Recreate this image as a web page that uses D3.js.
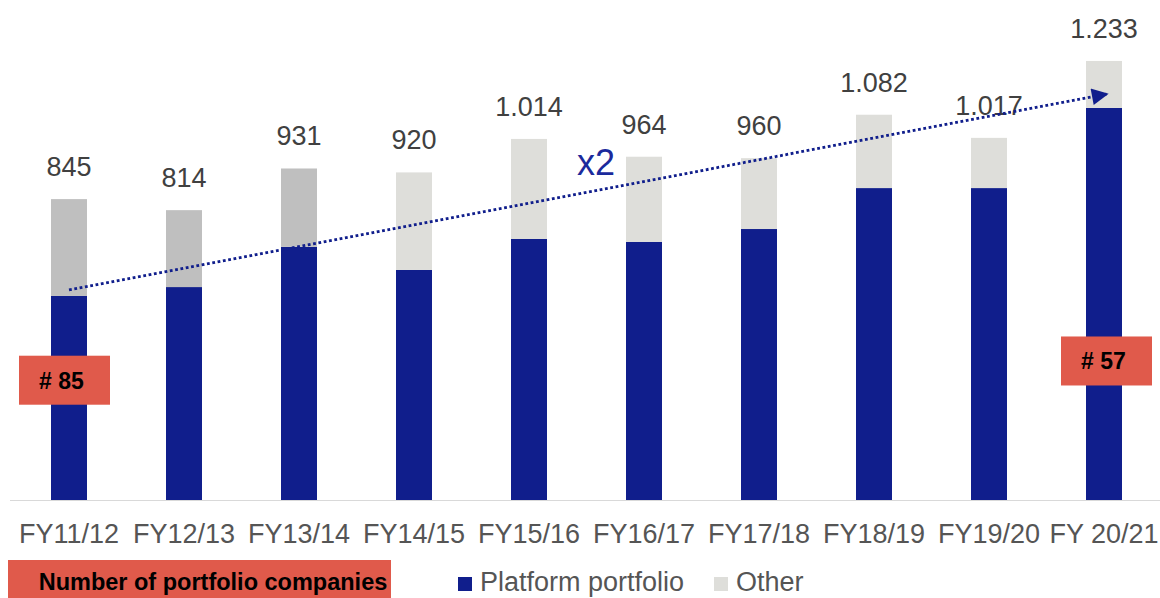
<!DOCTYPE html>
<html>
<head>
<meta charset="utf-8">
<script src="https://cdn.jsdelivr.net/npm/d3@7"></script>
<style>
  body { margin: 0; background: #fff; }
  svg { display: block; font-family: "Liberation Sans", Arial, sans-serif; }
</style>
</head>
<body>
<div class="chart"></div>
<script>
// data
var years = ["FY11/12", "FY12/13", "FY13/14", "FY14/15", "FY15/16", "FY16/17", "FY17/18", "FY18/19", "FY19/20", "FY 20/21"];
var platform = [573, 598, 711, 646, 733, 725, 761, 876, 876, 1101];
var other = [272, 216, 220, 274, 281, 239, 199, 206, 141, 132];
var companies = ["# 85", "# 57"];

var width = 1160;
var height = 598;
var baseY = 500;

var svg = d3.select('.chart')
    .append('svg')
    .attr('width', width)
    .attr('height', height);

//one band per fiscal year, bars are narrow so the inner padding is big
var x = d3.scaleBand()
    .domain(years)
    .range([11.5, 1161.5])
    .paddingInner(0.687)
    .paddingOuter(0.3435);

var y = d3.scaleLinear()
    .domain([0, 1348])
    .range([baseY, 20]);

var blue = "#101E8C";
var fmt = d3.formatLocale({ decimal: ",", thousands: ".", grouping: [3], currency: ["", ""] }).format(",");

//stack the two series
var rows = years.map(function(d, i) {
    return { year: d, platform: platform[i], other: other[i], idx: i };
});
var stack = d3.stack().keys(["platform", "other"]);
var layers = stack(rows);

//baseline
svg.append('line')
    .attr('x1', 10)
    .attr('x2', width)
    .attr('y1', baseY + 0.5)
    .attr('y2', baseY + 0.5)
    .attr('stroke', '#d9d9d9')
    .attr('stroke-width', 1);

svg.selectAll('.layer')
    .data(layers)
    .enter()
    .append('g')
        .attr('class', 'layer')
    .selectAll('rect')
    .data(function(d) { return d.map(function(s) { s.key = d.key; return s; }); })
    .enter()
    .append('rect')
        .attr('x', function(d) { return x(d.data.year); })
        .attr('width', x.bandwidth())
        .attr('y', function(d) { return y(d[1]); })
        .attr('height', function(d) { return y(d[0]) - y(d[1]); })
        .attr('fill', function(d) {
            if (d.key === "platform") return blue;
            return d.data.idx < 3 ? "#BFBFBF" : "#DEDEDA";
        });

//totals above the bars
svg.selectAll('.total')
    .data(rows)
    .enter()
    .append('text')
        .attr('class', 'total')
        .attr('x', function(d) { return x(d.year) + x.bandwidth() / 2; })
        .attr('y', function(d) { return y(d.platform + d.other) - 23; })
        .attr('text-anchor', 'middle')
        .attr('font-size', '27px')
        .attr('fill', '#404040')
        .text(function(d) { return fmt(d.platform + d.other); });

//category labels
svg.selectAll('.cat')
    .data(years)
    .enter()
    .append('text')
        .attr('class', 'cat')
        .attr('x', function(d) { return x(d) + x.bandwidth() / 2; })
        .attr('y', 543)
        .attr('text-anchor', 'middle')
        .attr('font-size', '27px')
        .attr('fill', '#555555')
        .text(function(d) { return d; });

//dotted growth arrow
svg.append('defs').append('marker')
    .attr('id', 'arrow')
    .attr('viewBox', '0 0 10 10')
    .attr('refX', 9)
    .attr('refY', 5)
    .attr('markerWidth', 8)
    .attr('markerHeight', 6)
    .attr('markerUnits', 'strokeWidth')
    .attr('orient', 'auto')
    .append('path')
        .attr('d', 'M0,0 L10,5 L0,10 Z')
        .attr('fill', blue);

var first = years[0], last = years[years.length - 1];
svg.append('line')
    .attr('x1', x(first) + x.bandwidth() / 2)
    .attr('y1', y(590))
    .attr('x2', x(last) + x.bandwidth() / 2 + 3)
    .attr('y2', y(1140))
    .attr('stroke', blue)
    .attr('stroke-width', 2.8)
    .attr('stroke-dasharray', '2.8,2.6')
    .attr('marker-end', 'url(#arrow)');

svg.append('text')
    .attr('x', 596)
    .attr('y', 175)
    .attr('text-anchor', 'middle')
    .attr('font-size', '36px')
    .attr('fill', '#1B2A9C')
    .text('x2');

//red badges with the number of companies
var badges = [
    { label: companies[0], year: first, v: 335, dx: -50 },
    { label: companies[1], year: last, v: 389, dx: -43 }
];
var badge = svg.selectAll('.badge')
    .data(badges)
    .enter()
    .append('g')
        .attr('class', 'badge')
        .attr('transform', function(d) {
            return "translate(" + (x(d.year) + x.bandwidth() / 2 + d.dx) + "," + (y(d.v) - 25) + ")";
        });
badge.append('rect')
    .attr('width', 91)
    .attr('height', 49)
    .attr('fill', '#E05A4B');
badge.append('text')
    .attr('x', 42.5)
    .attr('y', 33)
    .attr('text-anchor', 'middle')
    .attr('font-size', '23px')
    .attr('font-weight', 'bold')
    .attr('fill', '#000')
    .text(function(d) { return d.label; });

//bottom box + legend
svg.append('rect')
    .attr('x', 8)
    .attr('y', 560)
    .attr('width', 383)
    .attr('height', 40)
    .attr('fill', '#E05A4B');
svg.append('text')
    .attr('x', 213)
    .attr('y', 590)
    .attr('text-anchor', 'middle')
    .attr('font-size', '23.5px')
    .attr('font-weight', 'bold')
    .attr('fill', '#000')
    .text('Number of portfolio companies');

var legend = [
    { name: "Platform portfolio", color: blue, x: 458 },
    { name: "Other", color: "#DEDEDA", x: 714 }
];
var lg = svg.selectAll('.legend')
    .data(legend)
    .enter()
    .append('g')
        .attr('class', 'legend')
        .attr('transform', function(d) { return "translate(" + d.x + ",577)"; });
lg.append('rect')
    .attr('width', 14)
    .attr('height', 14)
    .attr('fill', function(d) { return d.color; });
lg.append('text')
    .attr('x', 22)
    .attr('y', 14)
    .attr('font-size', '27px')
    .attr('fill', '#555555')
    .text(function(d) { return d.name; });
</script>
</body>
</html>
